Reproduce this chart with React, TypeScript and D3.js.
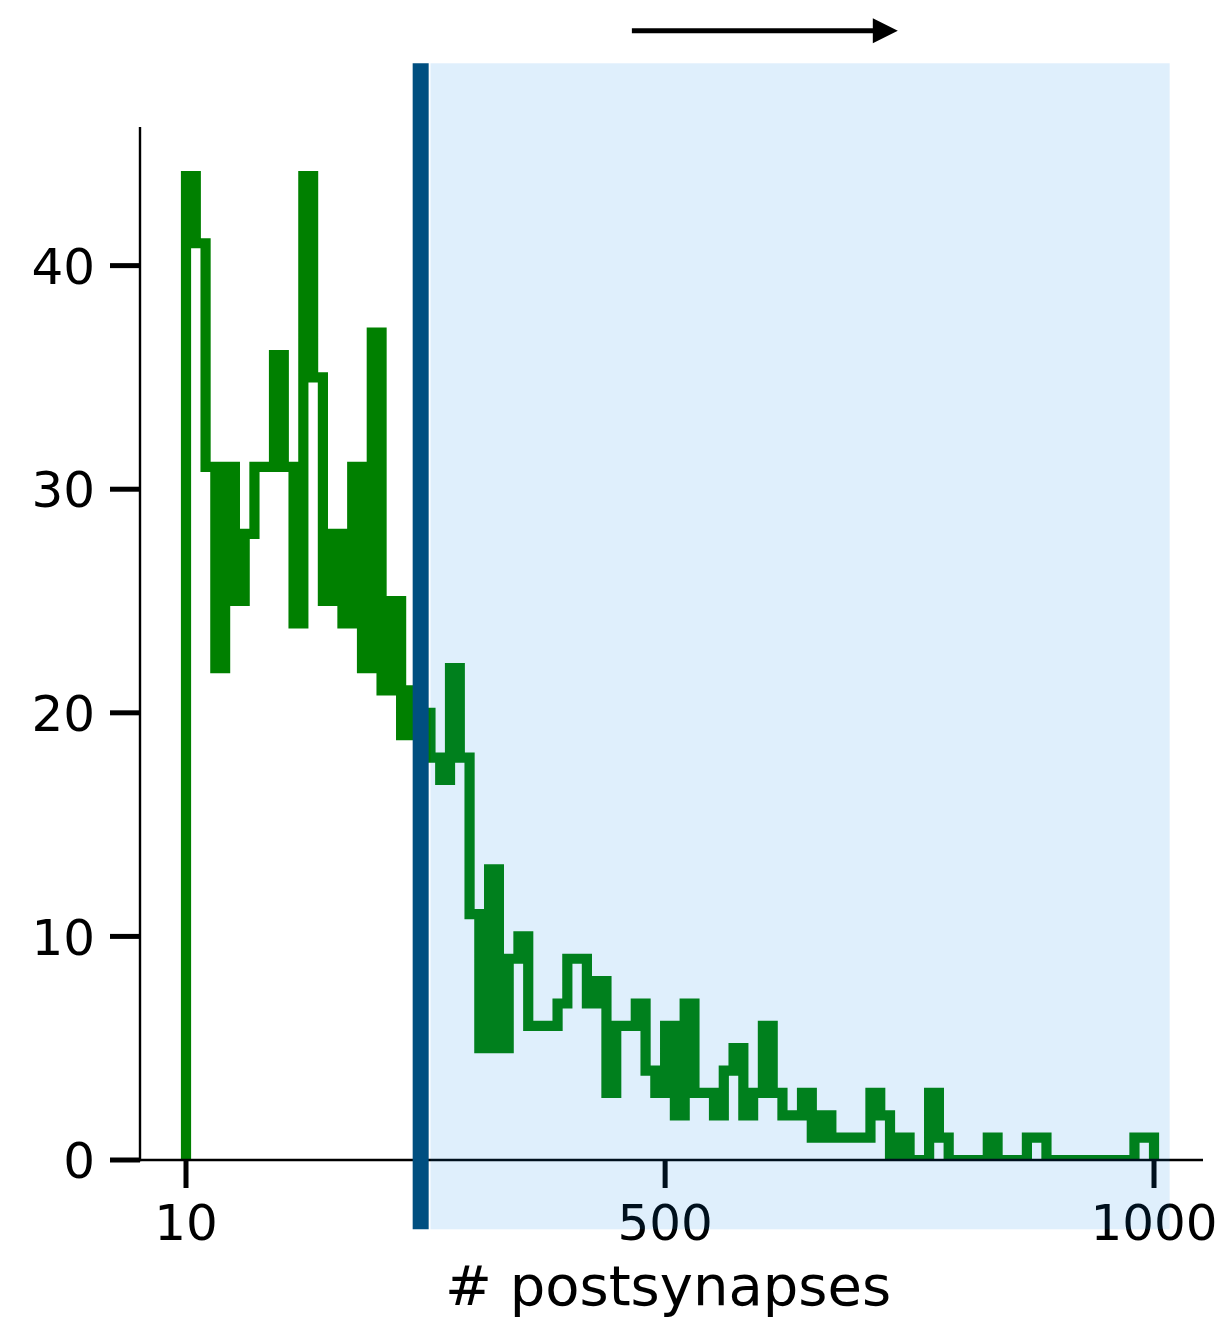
import React from "react";
import * as d3 from "d3";

// ---- data ----
const BIN_START = 10;
const BIN_WIDTH = 10;
const COUNTS = [
  44, 41, 31, 22, 31, 25, 28, 31, 31, 36,
  31, 24, 44, 35, 25, 28, 24, 31, 22, 37,
  21, 25, 19, 21, 20, 18, 17, 22, 18, 11,
  5, 13, 5, 9, 10, 6, 6, 6, 7, 9,
  9, 7, 8, 3, 6, 6, 7, 4, 3, 6,
  2, 7, 3, 3, 2, 4, 5, 2, 3, 6,
  3, 2, 2, 3, 1, 2, 1, 1, 1, 1,
  3, 2, 0, 1, 0, 0, 3, 1, 0, 0,
  0, 0, 1, 0, 0, 0, 1, 1, 0, 0,
  0, 0, 0, 0, 0, 0, 0, 1, 1,
];
const X_TICKS = [10, 500, 1000];
const Y_TICKS = [0, 10, 20, 30, 40];
const X_LABEL = "# postsynapses";
const THRESHOLD = 250;
const SHADE_RANGE = [260, 1016];
const SHADE_Y = [-3.1, 49.05];
const ARROW_X = [466, 738];
const ARROW_Y = 50.5;

// ---- layout ----
const W = 1219;
const H = 1323;
const AX_LEFT = 140;
const AX_RIGHT = 1203;
const AX_TOP = 127;
const AX_BOTTOM = 1160;
const FONT = "'DejaVu Sans', Verdana, sans-serif";
const FS = 50;
const LABEL_FS = 56;

export default function App() {
  const x = d3.scaleLinear().domain([-37.05, 1050.1]).range([AX_LEFT, AX_RIGHT]);
  const y = d3.scaleLinear().domain([0, 46.2]).range([AX_BOTTOM, AX_TOP]);

  const edges = d3.range(COUNTS.length + 1).map((i) => BIN_START + BIN_WIDTH * i);
  const pts: [number, number][] = [[edges[0], 0]];
  COUNTS.forEach((c, i) => {
    pts.push([edges[i], c]);
    pts.push([edges[i + 1], c]);
  });
  pts.push([edges[edges.length - 1], 0]);
  const line = d3
    .line<[number, number]>()
    .x((d) => x(d[0]))
    .y((d) => y(d[1]));

  const tickLen = 28;
  const tickW = 5;
  const ay = y(ARROW_Y);
  const ax0 = x(ARROW_X[0]);
  const ax1 = x(ARROW_X[1]);
  const headLen = 25;
  const headHalf = 12.5;

  return (
    <svg
      width={W}
      height={H}
      style={{ position: "absolute", left: 0, top: 0, background: "#fff" }}
      fontFamily={FONT}
    >
      <defs>
        <clipPath id="plotclip">
          <rect x={AX_LEFT} y={AX_TOP} width={AX_RIGHT - AX_LEFT} height={AX_BOTTOM - AX_TOP} />
        </clipPath>
      </defs>

      {/* histogram step outline */}
      <path
        d={line(pts) || ""}
        fill="none"
        stroke="#008000"
        strokeWidth={10.2}
        strokeLinejoin="miter"
        strokeLinecap="butt"
        clipPath="url(#plotclip)"
      />

      {/* spines */}
      <line x1={AX_LEFT} x2={AX_LEFT} y1={AX_TOP} y2={AX_BOTTOM + 1.2} stroke="#000" strokeWidth={2.4} />
      <line x1={AX_LEFT - 1.2} x2={AX_RIGHT} y1={AX_BOTTOM} y2={AX_BOTTOM} stroke="#000" strokeWidth={2.4} />

      {/* y ticks */}
      {Y_TICKS.map((t) => (
        <g key={"y" + t}>
          <line x1={AX_LEFT - tickLen - 2} x2={AX_LEFT} y1={y(t)} y2={y(t)} stroke="#000" strokeWidth={tickW} />
          <text x={95} y={y(t) + 0.3645 * FS} fontSize={FS} textAnchor="end" fill="#000">
            {t}
          </text>
        </g>
      ))}

      {/* x ticks */}
      {X_TICKS.map((t) => (
        <g key={"x" + t}>
          <line x1={x(t)} x2={x(t)} y1={AX_BOTTOM} y2={AX_BOTTOM + tickLen} stroke="#000" strokeWidth={tickW} />
          <text x={x(t)} y={1240} fontSize={FS} textAnchor="middle" fill="#000">
            {t}
          </text>
        </g>
      ))}

      <text x={668} y={1305} fontSize={LABEL_FS} textAnchor="middle" fill="#000">
        {X_LABEL}
      </text>

      {/* threshold line */}
      <line
        x1={x(THRESHOLD)}
        x2={x(THRESHOLD)}
        y1={y(SHADE_Y[1])}
        y2={y(SHADE_Y[0])}
        stroke="#004f80"
        strokeWidth={16}
      />

      {/* shaded region (translucent, on top) */}
      <rect
        x={x(SHADE_RANGE[0])}
        y={y(SHADE_Y[1])}
        width={x(SHADE_RANGE[1]) - x(SHADE_RANGE[0])}
        height={y(SHADE_Y[0]) - y(SHADE_Y[1])}
        fill="rgb(0,128,230)"
        fillOpacity={0.125}
      />

      {/* arrow */}
      <line x1={ax0} x2={ax1 - headLen + 1} y1={ay} y2={ay} stroke="#000" strokeWidth={5} />
      <polygon
        points={`${ax1 - headLen},${ay - headHalf} ${ax1},${ay} ${ax1 - headLen},${ay + headHalf}`}
        fill="#000"
      />
    </svg>
  );
}
